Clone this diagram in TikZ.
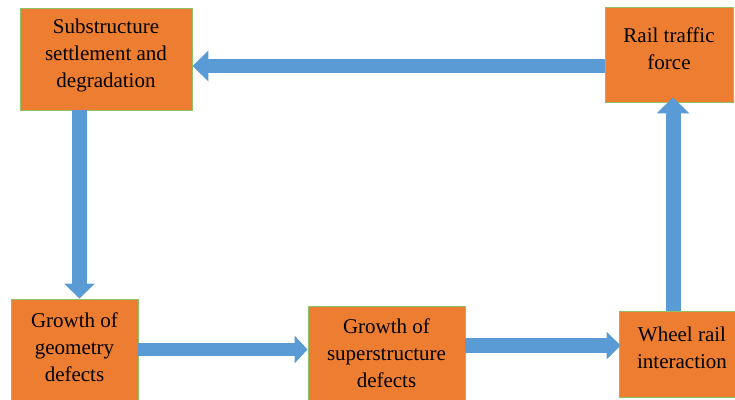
\documentclass[tikz,border=0pt]{standalone}
\usepackage{fontspec}
\setmainfont{Liberation Serif}
\newfontfamily\boxfont{Liberation Serif}
\usetikzlibrary{arrows.meta}
\definecolor{boxorange}{HTML}{ED7D31}
\definecolor{boxgreen}{HTML}{8CC168}
\definecolor{arrowblue}{HTML}{5B9BD5}
\tikzset{
  box/.style={rectangle, fill=boxorange, draw=boxgreen, line width=0.9pt, inner sep=0pt},
  boxtext/.style={align=center, inner sep=0pt, font=\boxfont\fontsize{21}{27}\selectfont, text=black},
  blockarrow/.style={draw=arrowblue, line width=#1}
}
\begin{document}
\begin{tikzpicture}[x=1pt, y=-1pt]
\useasboundingbox (0,0) rectangle (735,399);
\clip (0,0) rectangle (735,399);
% boxes
\node[box, minimum width=172pt, minimum height=102pt] (sub) at (106,59) {};
\node[box, minimum width=128pt, minimum height=95pt] (rail) at (669,54.5) {};
\node[box, minimum width=127pt, minimum height=111pt] (geo) at (74.5,354.5) {};
\node[box, minimum width=157pt, minimum height=104pt] (sup) at (386.5,358) {};
\node[box, minimum width=131pt, minimum height=86pt] (wheel) at (684.5,354) {};
% texts
\node[boxtext] (subT) at (106,55) {Substructure\\settlement and\\degradation};
\node[boxtext] (railT) at (669,49) {Rail traffic\\force};
\node[boxtext] (geoT) at (74.5,347) {Growth of\\geometry\\defects};
\node[boxtext] (supT) at (386.5,353) {Growth of\\superstructure\\defects};
\node[boxtext] (wheelT) at (682,348) {Wheel rail\\interaction};
% arrows
\draw[blockarrow=14pt, -{Triangle[length=16pt,width=30pt]}] (rail.west |- 0,66) -- (sub.east |- 0,66);
\draw[blockarrow=15pt, -{Triangle[length=15pt,width=30pt]}] (79.5,0 |- sub.south) -- (79.5,0 |- geo.north);
\draw[blockarrow=13pt, -{Triangle[length=13pt,width=27pt]}] (geo.east |- 0,349.5) -- (sup.west |- 0,349.5);
\draw[blockarrow=15pt, -{Triangle[length=14pt,width=27pt]}] (sup.east |- 0,345.5) -- ([xshift=2pt]wheel.west |- 0,345.5);
\draw[blockarrow=15pt, -{Triangle[length=16pt,width=32pt]}] (673,0 |- wheel.north) -- ([yshift=5pt]673,0 |- rail.south);
\end{tikzpicture}
\end{document}
